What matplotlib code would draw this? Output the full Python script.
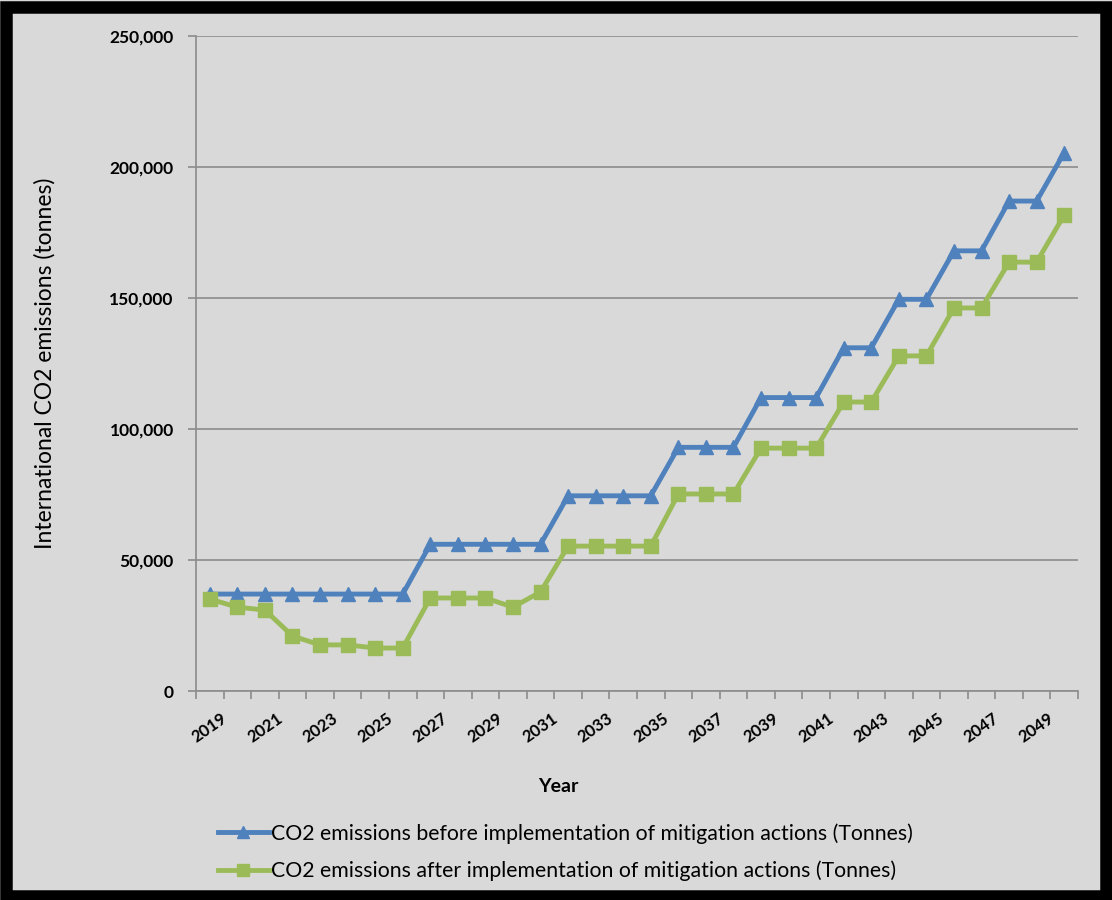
import numpy as np
import matplotlib.pyplot as plt
from matplotlib.patches import Rectangle
from matplotlib.ticker import FuncFormatter

years = list(range(2019, 2051))

before = [37000, 37000, 37000, 37000, 37000, 37000, 37000, 37000,
          56000, 56000, 56000, 56000, 56000,
          74500, 74500, 74500, 74500,
          93000, 93000, 93000,
          112000, 112000, 112000,
          131000, 131000,
          149500, 149500,
          168000, 168000,
          187000, 187000,
          205500]

after = [35100, 32000, 30900, 21000, 17600, 17600, 16400, 16400,
         35500, 35500, 35500, 32000, 37800,
         55300, 55300, 55300, 55300,
         75200, 75200, 75200,
         92700, 92700, 92700,
         110300, 110300,
         127900, 127900,
         146200, 146200,
         163700, 163700,
         181700]

labelBefore = "CO2 emissions before implementation of mitigation actions (Tonnes)"
labelAfter = "CO2 emissions after implementation of mitigation actions (Tonnes)"

plt.rcParams['font.family'] = ['Lato', 'DejaVu Sans']

fig = plt.figure(figsize=(11.12, 9), dpi=100)
fig.patch.set_facecolor('#d9d9d9')
# Black frame around the whole chart
fig.patches.append(Rectangle((6 / 1112, 4 / 900), (1106 - 6) / 1112, (893 - 4) / 900,
                             transform=fig.transFigure, facecolor='none',
                             edgecolor='black', linewidth=9, zorder=10))

ax = fig.add_axes([196 / 1112, 1 - 691 / 900, (1078 - 196) / 1112, (691 - 36) / 900])
ax.set_facecolor('#d9d9d9')

x = np.arange(len(years))
ax.plot(x, before, color='#4f81bd', linewidth=3.5, marker='^', markersize=10,
        label=labelBefore, zorder=3)
ax.plot(x, after, color='#9bbb59', linewidth=3.5, marker='s', markersize=10,
        label=labelAfter, zorder=3)

ax.set_xlim(-0.5, len(years) - 0.5)
ax.set_ylim(0, 250000)
ax.set_yticks(np.arange(0, 250001, 50000))
ax.yaxis.set_major_formatter(FuncFormatter(lambda v, p: f"{int(v):,}"))
ax.grid(axis='y', color='#8c8c8c', linewidth=1.2)
ax.set_axisbelow(True)

# Year labels every other category, centred under the category
ax.set_xticks(x[::2])
ax.set_xticklabels([str(y) for y in years[::2]], rotation=35, ha='center',
                   va='top', fontsize=12, fontweight='bold')
ax.set_xticks(np.arange(-0.5, len(years)), minor=True)
ax.tick_params(axis='x', which='major', length=0, pad=14)
ax.tick_params(axis='x', which='minor', length=6, color='#8c8c8c', width=1.2)
ax.tick_params(axis='y', length=6, color='#8c8c8c', width=1.2, pad=10)
for lbl in ax.get_yticklabels():
    lbl.set_fontweight('bold')
    lbl.set_fontsize(12.5)

for side in ['top', 'right']:
    ax.spines[side].set_visible(False)
for side in ['left', 'bottom']:
    ax.spines[side].set_color('#8c8c8c')
    ax.spines[side].set_linewidth(1.2)

ax.set_ylabel("International CO2 emissions (tonnes)", fontsize=16.5)
ax.yaxis.set_label_coords((56 - 196) / 882, 0.5)
fig.text(558 / 1112, 1 - 787 / 900, "Year", fontsize=14, fontweight='bold',
         ha='center', va='center')

fig.legend(loc='upper center', bbox_to_anchor=(565 / 1112, 1 - 804 / 900),
           frameon=False, fontsize=15.3, handlelength=2.4, handletextpad=0.1,
           labelspacing=0.8, markerscale=0.8)

fig.savefig("out.png", dpi=100, facecolor=fig.get_facecolor())
